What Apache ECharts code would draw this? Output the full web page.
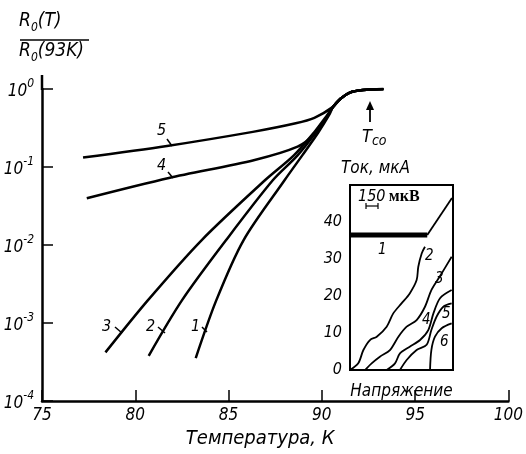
<!DOCTYPE html>
<html>
<head>
<meta charset="utf-8">
<script src="https://cdn.jsdelivr.net/npm/echarts@6/dist/echarts.min.js"></script>
<style>html,body{margin:0;background:#fff}#main{width:526px;height:454px}</style>
</head>
<body>
<div id="main"></div>
<script>
const FONT = "'Liberation Sans Narrow','DejaVu Sans Condensed','DejaVu Sans',sans-serif";

// R0(T)/R0(93K) vs temperature (K)
var curve1 = [[83.24, 3.55e-4], [84.34, 1.95e-3], [85.8, 0.0115], [88.0, 0.0676], [88.95, 0.141], [89.8, 0.275], [90.4, 0.468]];
var curve2 = [[80.72, 3.8e-4], [82.5, 1.95e-3], [84.86, 0.0115], [87.37, 0.0676], [88.7, 0.141], [89.67, 0.275], [90.35, 0.468]];
var curve3 = [[78.4, 4.2e-4], [80.67, 1.95e-3], [83.55, 0.0115], [86.95, 0.0676], [88.5, 0.141], [89.57, 0.275], [90.3, 0.468]];
var curve4 = [[77.4, 0.0398], [81.8, 0.0724], [86.4, 0.123], [88.7, 0.182], [89.6, 0.263], [90.2, 0.417]];
var curve5 = [[77.2, 0.132], [81.7, 0.186], [86.3, 0.282], [88.6, 0.363], [89.6, 0.427]];
// common part near the transition
var topPart = [[90.6, 0.59], [91.0, 0.75], [91.5, 0.9], [92.2, 0.97], [93.3, 1.0]];

// inset: current (мкА) vs voltage (arb. units 0..100)
var iv1flat = [[0, 36.5], [75, 36.5]];
var iv1ramp = [[75, 36.5], [99, 46.5]];
var iv2 = [[0, 0], [8, 1.8], [13, 5.4], [19.4, 8.1], [26, 9], [35.6, 11.7], [42, 15.3], [50, 18], [58, 20.7], [64.7, 24.3], [66.3, 27.9], [69.6, 31.5], [72.8, 33.3]];
var iv3 = [[14.6, 0], [21, 1.8], [29, 3.6], [38.8, 5.4], [47, 9], [55, 11.7], [64.7, 13.5], [72.8, 17.1], [79, 21.6], [87, 25.2], [98.7, 30.6]];
var iv4 = [[35.6, 0], [43.7, 1.8], [48.5, 4.5], [58, 6.3], [68, 8.1], [76, 10.8], [81, 15.3], [87.4, 19.4], [98.7, 21.6]];
var iv5 = [[48.5, 0], [55, 2.7], [64.7, 5.4], [74.4, 6.8], [79, 10.8], [84, 14.4], [90.6, 17.1], [98.7, 18]];
var iv6 = [[77.7, 0], [79, 5.4], [82.5, 9], [89, 11.3], [98.7, 12.6]];

var chart = echarts.init(document.getElementById('main'));

function mainLine(d) {
  return {
    type: 'line', xAxisIndex: 0, yAxisIndex: 0, data: d.concat(topPart),
    smooth: 0.3, showSymbol: false, silent: true,
    lineStyle: { color: '#000', width: 2.5 }
  };
}
function insetLine(d, w) {
  return {
    type: 'line', xAxisIndex: 1, yAxisIndex: 1, data: d,
    smooth: 0.3, showSymbol: false, silent: true,
    lineStyle: { color: '#000', width: w || 1.8 }
  };
}
function txt(s, x, y, size) {
  return { type: 'text', left: x, top: y, z: 10, style: { text: s, font: 'italic ' + (size || 15) + 'px ' + FONT, fill: '#000' } };
}
function seg(x1, y1, x2, y2, w) {
  return { type: 'line', z: 10, shape: { x1: x1, y1: y1, x2: x2, y2: y2 }, style: { stroke: '#000', lineWidth: w || 1.5 } };
}
var fracRich = {
  r: { font: 'italic 19px ' + FONT, lineHeight: 22, verticalAlign: 'top' },
  s: { font: 'italic 12px ' + FONT, lineHeight: 13, verticalAlign: 'bottom' },
  p: { font: 'italic 19px ' + FONT, lineHeight: 22, verticalAlign: 'top' }
};

var option = {
  backgroundColor: '#fff',
  animation: false,
  grid: [
    { left: 42, right: 7, top: 89, bottom: 50, show: false },
    { left: 350, top: 185, width: 103, height: 185, show: true, borderColor: '#000', borderWidth: 2, backgroundColor: '#fff', z: 3 }
  ],
  xAxis: [
    {
      type: 'value', min: 75, max: 100, interval: 5,
      name: 'Температура, К', nameLocation: 'middle', nameGap: 28,
      nameTextStyle: { color: '#000', fontSize: 20, fontStyle: 'italic', fontFamily: FONT, padding: [0, 30, 0, 0] },
      axisLine: { lineStyle: { color: '#000', width: 2.5 } },
      axisTick: { inside: true, length: 11, lineStyle: { color: '#000', width: 1.5 } },
      axisLabel: { color: '#000', fontSize: 17, fontStyle: 'italic', fontFamily: FONT, margin: 6 },
      splitLine: { show: false }
    },
    {
      type: 'value', gridIndex: 1, min: 0, max: 100,
      name: 'Напряжение', nameLocation: 'middle', nameGap: 13,
      nameTextStyle: { color: '#000', fontSize: 17, fontStyle: 'italic', fontFamily: FONT },
      axisLine: { lineStyle: { color: '#000', width: 2 } },
      axisTick: { show: false }, axisLabel: { show: false }, splitLine: { show: false }
    }
  ],
  yAxis: [
    {
      type: 'log', logBase: 10, min: 1e-4, max: 1,
      axisLine: { show: true, lineStyle: { color: '#000', width: 2.5 } },
      axisTick: { inside: true, length: 11, lineStyle: { color: '#000', width: 1.5 } },
      minorTick: { show: false },
      axisLabel: {
        margin: 8, color: '#000', fontFamily: FONT,
        formatter: function (v) {
          return '{b|10}{s|' + Math.round(Math.log10(v)) + '}';
        },
        rich: {
          b: { fontSize: 17, fontStyle: 'italic', fontFamily: FONT, lineHeight: 22, verticalAlign: 'bottom' },
          s: { fontSize: 12, fontStyle: 'italic', fontFamily: FONT, lineHeight: 12, verticalAlign: 'top' }
        }
      },
      splitLine: { show: false }
    },
    {
      type: 'value', gridIndex: 1, min: 0, max: 50, interval: 10,
      axisLine: { show: true, lineStyle: { color: '#000', width: 2 } },
      axisTick: { inside: true, length: 7, lineStyle: { color: '#000', width: 1.5 } },
      axisLabel: {
        margin: 8, color: '#000', fontSize: 16, fontStyle: 'italic', fontFamily: FONT,
        formatter: function (v) { return v < 50 ? String(v) : ''; }
      },
      splitLine: { show: false }
    }
  ],
  series: [
    mainLine(curve1), mainLine(curve2), mainLine(curve3), mainLine(curve4), mainLine(curve5),
    insetLine(iv1flat, 5), insetLine(iv1ramp, 1.8),
    insetLine(iv2), insetLine(iv3), insetLine(iv4), insetLine(iv5), insetLine(iv6)
  ],
  graphic: [
    // y axis title as a fraction
    { type: 'text', left: 19, top: 12, style: { text: '{r|R}{s|0}{p|(T)}', rich: fracRich } },
    seg(20, 40, 89, 40, 1.6),
    { type: 'text', left: 19, top: 42, style: { text: '{r|R}{s|0}{p|(93K)}', rich: fracRich } },
    seg(42, 75, 42, 90, 2.5),
    // curve labels
    txt('5', 157, 123, 16), seg(167, 139, 172, 146),
    txt('4', 157, 158, 16), seg(168, 172, 173, 178),
    txt('3', 102, 319, 16), seg(115, 327, 122, 333),
    txt('2', 146, 319, 16), seg(158, 327, 165, 333),
    txt('1', 191, 319, 16), seg(202, 327, 207, 332),
    // T_co arrow
    seg(370, 122, 370, 108, 1.8),
    { type: 'polygon', shape: { points: [[366, 110], [374, 110], [370, 101]] }, style: { fill: '#000' } },
    { type: 'text', left: 362, top: 128, style: { text: '{t|T}{s|co}', rich: {
      t: { font: 'italic 18px ' + FONT, lineHeight: 20, verticalAlign: 'top' },
      s: { font: 'italic 14px ' + FONT, lineHeight: 14, verticalAlign: 'bottom' } } } },
    // inset annotations
    txt('Ток, мкА', 341, 160, 17),
    { type: 'text', left: 358, top: 189, z: 10, style: { text: '{a|150} {b|мкВ}', rich: {
      a: { font: 'italic 16px ' + FONT },
      b: { font: 'bold 16px "Liberation Serif", serif' } } } },
    seg(366, 206, 378, 206, 1.2), seg(366, 203, 366, 209, 1.2), seg(378, 203, 378, 209, 1.2),
    txt('1', 378, 243, 15), txt('2', 425, 249, 15), txt('3', 435, 272, 15),
    txt('4', 422, 313, 15), txt('5', 442, 307, 15), txt('6', 440, 335, 15)
  ]
};
chart.setOption(option);
</script>
</body>
</html>
